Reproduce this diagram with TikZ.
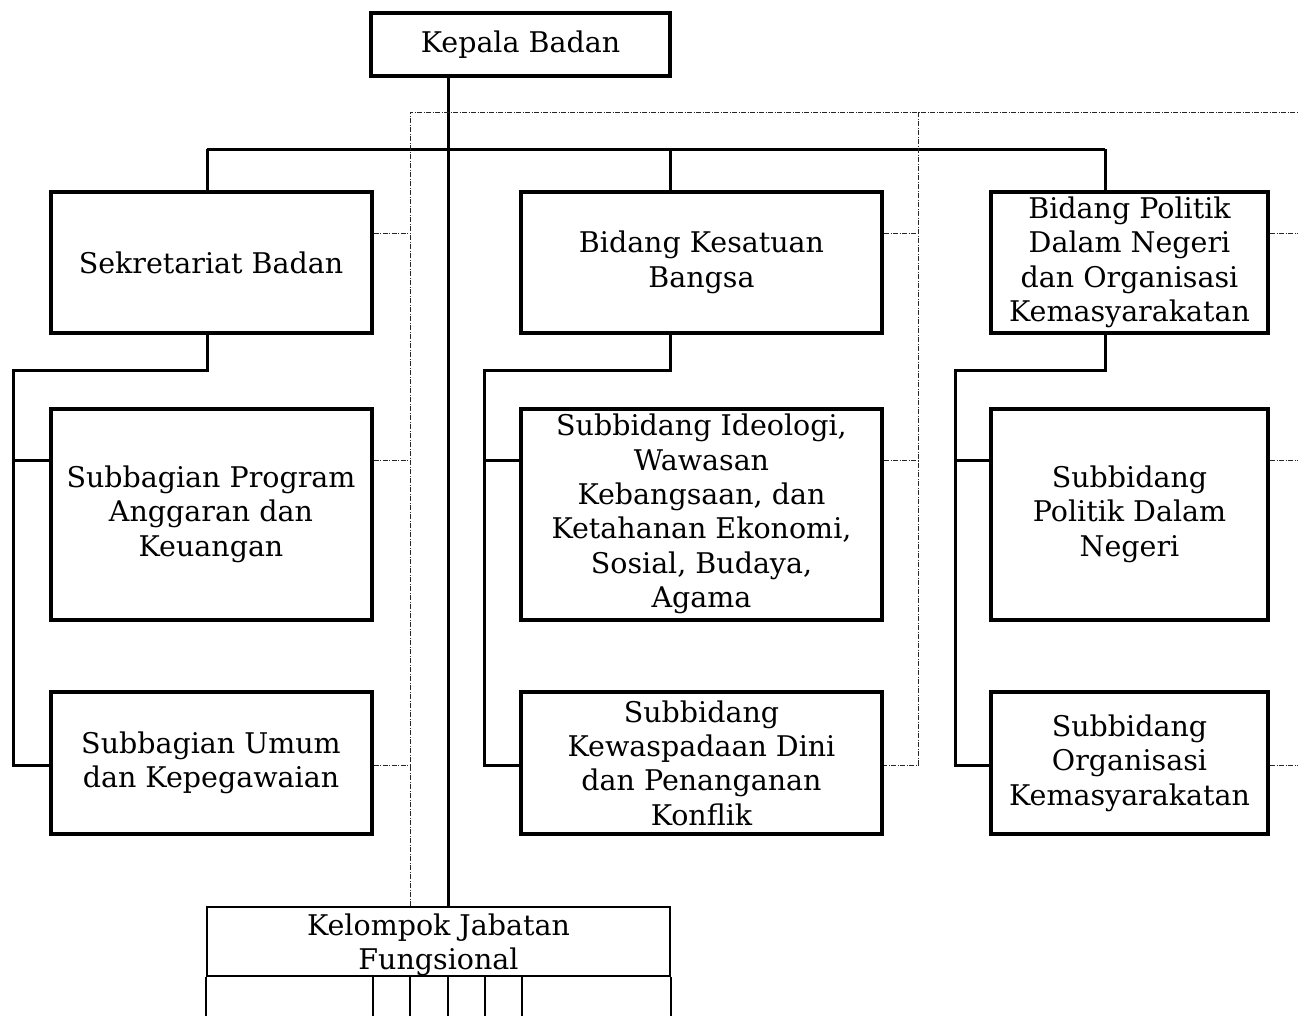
\documentclass[tikz,border=0pt]{standalone}
\usepackage{fontspec}
\setmainfont{DejaVu Serif}
\begin{document}
\begin{tikzpicture}[x=1pt,y=-1pt,
  box/.style={draw, line width=4pt, rectangle, align=center, inner sep=0pt,
    font=\fontsize{28.5}{34.4}\selectfont},
  kbox/.style={draw, line width=2pt, rectangle, inner sep=0pt},
  lbl/.style={align=center, inner sep=0pt, font=\fontsize{28.5}{34.4}\selectfont},
  conn/.style={line width=3pt},
  thin/.style={line width=2pt},
  dd/.style={line width=1pt, draw=black!85, dash pattern=on 5pt off 1.5pt on 1pt off 1.5pt}]
\useasboundingbox (0,0) rectangle (1298,1015);
\clip (0,0) rectangle (1298,1015);
% nodes
\node[box, minimum width=299pt, minimum height=63pt] (kep) at (520.5,44.5) {\raisebox{-2pt}{Kepala Badan}};
\node[box, minimum width=321pt, minimum height=141pt] (sek) at (211,262.5) {Sekretariat Badan};
\node[box, minimum width=361pt, minimum height=141pt] (bkb) at (701.5,262.5) {Bidang Kesatuan\\Bangsa};
\node[box, minimum width=277pt, minimum height=141pt] (bpd) at (1129.5,262.5) {Bidang Politik\\Dalam Negeri\\dan Organisasi\\Kemasyarakatan};
\node[box, minimum width=321pt, minimum height=211pt] (sbp) at (211,514) {Subbagian Program\\Anggaran dan\\Keuangan};
\node[box, minimum width=361pt, minimum height=211pt] (sbi) at (701.5,514) {Subbidang Ideologi,\\Wawasan\\Kebangsaan, dan\\Ketahanan Ekonomi,\\Sosial, Budaya,\\Agama};
\node[box, minimum width=277pt, minimum height=211pt] (sbpd) at (1129.5,514) {Subbidang\\Politik Dalam\\Negeri};
\node[box, minimum width=321pt, minimum height=142pt] (sbu) at (211,763) {Subbagian Umum\\dan Kepegawaian};
\node[box, minimum width=361pt, minimum height=142pt] (sbk) at (701.5,763) {Subbidang\\Kewaspadaan Dini\\dan Penanganan\\Konflik};
\node[box, minimum width=277pt, minimum height=142pt] (sbo) at (1129.5,763) {Subbidang\\Organisasi\\Kemasyarakatan};
\node[kbox, minimum width=463pt, minimum height=69pt, anchor=north] (kel) at (438.5,906) {};
\node[lbl] (keltxt) at ([yshift=-3.5pt]kel.center) {Kelompok Jabatan\\Fungsional};
% reference coordinates
\coordinate (m) at (448,0);
\coordinate (b1) at (207,149);
\coordinate (b2) at (670,149);
\coordinate (b3) at (1105,149);
\coordinate (h1) at (207,370);
\coordinate (h2) at (670,370);
\coordinate (h3) at (1105,370);
\coordinate (t1) at (13,370);
\coordinate (t2) at (484,370);
\coordinate (t3) at (955,370);
\coordinate (r1) at (0,233);
\coordinate (r2) at (0,460);
\coordinate (r3) at (0,765);
\coordinate (d1) at (410,112);
\coordinate (d2) at (918,112);
\coordinate (e) at (1298,112);
\coordinate (kb) at (0,1030);
% solid connectors
\draw[conn] (kep.south -| m) -- (kel.north -| m);
\draw[conn] (b1) -- (b3);
\draw[conn] (b1) -- (b1 |- sek.north);
\draw[conn] (b2) -- (b2 |- bkb.north);
\draw[conn] (b3) -- (b3 |- bpd.north);
\draw[conn] (h1 |- sek.south) -- (h1) -- (t1) -- (t1 |- r3) -- (sbu.west |- r3);
\draw[conn] (t1 |- r2) -- (sbp.west |- r2);
\draw[conn] (h2 |- bkb.south) -- (h2) -- (t2) -- (t2 |- r3) -- (sbk.west |- r3);
\draw[conn] (t2 |- r2) -- (sbi.west |- r2);
\draw[conn] (h3 |- bpd.south) -- (h3) -- (t3) -- (t3 |- r3) -- (sbo.west |- r3);
\draw[conn] (t3 |- r2) -- (sbpd.west |- r2);
% dash-dot lines
\draw[dd] (kel.north -| d1) -- (d1) -- (e);
\draw[dd] (d2) -- (d2 |- r3) -- (sbk.east |- r3);
\draw[dd] (sek.east |- r1) -- (d1 |- r1);
\draw[dd] (sbp.east |- r2) -- (d1 |- r2);
\draw[dd] (sbu.east |- r3) -- (d1 |- r3);
\draw[dd] (bkb.east |- r1) -- (d2 |- r1);
\draw[dd] (sbi.east |- r2) -- (d2 |- r2);
\draw[dd] (bpd.east |- r1) -- (e |- r1);
\draw[dd] (sbpd.east |- r2) -- (e |- r2);
\draw[dd] (sbo.east |- r3) -- (e |- r3);
% lower part of Kelompok Jabatan Fungsional
\draw[thin] (kel.south west) -- (kel.south west |- kb);
\draw[thin] (kel.south east) -- (kel.south east |- kb);
\foreach \xx in {373,410,448,485,522} {
  \coordinate (cx) at (\xx,0);
  \draw[thin] (kel.south -| cx) -- (kb -| cx);
}
\end{tikzpicture}
\end{document}
